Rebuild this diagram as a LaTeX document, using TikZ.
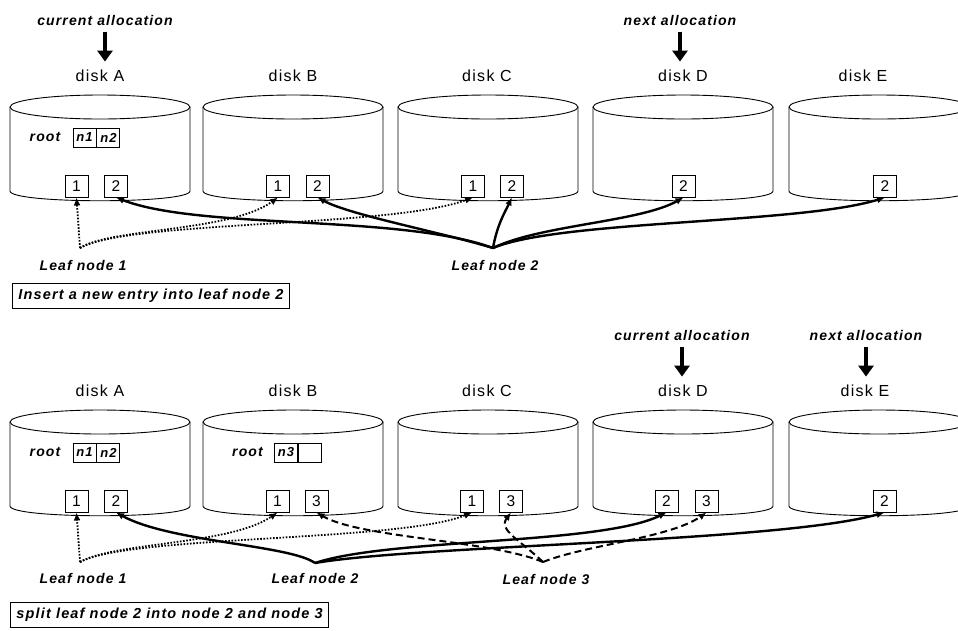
\documentclass[tikz,border=0pt]{standalone}
\usepackage{fontspec}
\setmainfont{Liberation Sans}[LetterSpace=8]
\usetikzlibrary{arrows.meta,positioning}
\tikzset{
  disk/.style={line width=0.9pt,draw=black},
  slot/.style={draw,line width=0.9pt,minimum width=23pt,minimum height=22pt,inner sep=0pt,font=\fontsize{15.5}{15.5}\selectfont},
  cell/.style={draw,line width=0.9pt,minimum width=23pt,minimum height=19pt,inner sep=0pt,font=\fontsize{13}{13}\selectfont\bfseries\itshape},
  lab/.style={font=\fontsize{14}{14}\selectfont\bfseries\itshape},
  disklab/.style={font=\fontsize{16}{16}\selectfont},
  caption/.style={draw,line width=0.9pt,inner xsep=6pt,minimum height=25pt,font=\fontsize{14.5}{14.5}\selectfont\bfseries\itshape},
  alloc/.style={-{Triangle[length=11pt,width=15pt]},line width=3.5pt,shorten <=3pt,shorten >=5pt},
  link/.style={-{Latex[length=8pt,width=7pt]},line width=2.4pt},
  dotlink/.style={-{Latex[length=8pt,width=7pt]},line width=1.8pt,dash pattern=on 1.6pt off 1.6pt},
  dashlink/.style={-{Latex[length=8pt,width=7pt]},line width=2pt,dash pattern=on 7pt off 4pt}
}

\begin{document}
\begin{tikzpicture}[x=1pt,y=-1pt]
    \useasboundingbox (0,0) rectangle (958,630);
    \clip (0,0) rectangle (958,630);

    % the five disks, once per row
    \foreach \cx in {100,293,488,683,879}{
      \foreach \dy in {0,315}{
        \draw[disk] (\cx-90,107+\dy) -- (\cx-90,191+\dy)
          .. controls (\cx-90,204+\dy) and (\cx+90,204+\dy) .. (\cx+90,191+\dy) -- (\cx+90,107+\dy);
        \draw[disk] (\cx,107+\dy) ellipse [x radius=90pt,y radius=12pt];
      }
    }

    % ---- insert ----
    \node[disklab] (tlA) at (100,76) {disk A};
    \node[disklab] (tlB) at (293,76) {disk B};
    \node[disklab] (tlC) at (487,76) {disk C};
    \node[disklab] (tlD) at (683,76) {disk D};
    \node[disklab] (tlE) at (863,76) {disk E};
    \node[lab] (tcur) at (105,20) {current allocation};
    \node[lab] (tnext) at (680,20) {next allocation};
    \draw[alloc] (tcur.south) -- (tcur.south |- tlA.north);
    \draw[alloc] (tnext.south) -- (tnext.south |- tlD.north);

    \node[lab] (troot) at (45,137) {root};
    \node[cell] (tn1) at (84.5,137.5) {n1};
    \node[cell,right=0pt of tn1] (tn2) {n2};

    \node[slot] (tA1) at (76.5,186) {1};
    \node[slot] (tA2) at (116,186) {2};
    \node[slot] (tB1) at (278,186) {1};
    \node[slot] (tB2) at (317.5,186) {2};
    \node[slot] (tC1) at (473,186) {1};
    \node[slot] (tC2) at (512,186) {2};
    \node[slot] (tD2) at (683.5,186) {2};
    \node[slot] (tE2) at (885,186) {2};

    \coordinate (tleaf1) at (80,248);
    \coordinate (tleaf2) at (493,248);
    \node[lab] (tleaf1lab) at (83,265) {Leaf node 1};
    \node[lab] (tleaf2lab) at (495,265) {Leaf node 2};

    \draw[dotlink] (tleaf1) -- (tA1.south);
    \draw[dotlink] (tleaf1) .. controls (110,228) and (230,232) .. (tB1.south);
    \draw[dotlink] (tleaf1) .. controls (130,220) and (390,228) .. (tC1.south);
    \draw[link] (tleaf2) .. controls (400,214) and (200,230) .. (tA2.south);
    \draw[link] (tleaf2) .. controls (440,232) and (350,215) .. (tB2.south);
    \draw[link] (tleaf2) .. controls (497,225) and (505,212) .. (tC2.south);
    \draw[link] (tleaf2) .. controls (540,225) and (640,222) .. (tD2.south);
    \draw[link] (tleaf2) .. controls (560,220) and (800,224) .. (tE2.south);

    \node[caption,anchor=west] (tcap) at (12,296) {Insert a new entry into leaf node 2};

    % ---- split ----
    \node[disklab] (slA) at (100,391) {disk A};
    \node[disklab] (slB) at (293,391) {disk B};
    \node[disklab] (slC) at (487,391) {disk C};
    \node[disklab] (slD) at (683,391) {disk D};
    \node[disklab] (slE) at (865,391) {disk E};
    \node[lab] (scur) at (682,335) {current allocation};
    \node[lab] (snext) at (866,335) {next allocation};
    \draw[alloc] (scur.south) -- (scur.south |- slD.north);
    \draw[alloc] (snext.south) -- (snext.south |- slE.north);

    \node[lab] (sroot) at (45,452) {root};
    \node[cell] (sn1) at (84.5,452.5) {n1};
    \node[cell,right=0pt of sn1] (sn2) {n2};
    \node[lab] (sroot3) at (247.5,452) {root};
    \node[cell] (sn3) at (286,452.5) {n3};
    \node[cell,right=0pt of sn3] (sfree) {};

    \node[slot] (sA1) at (76.5,501) {1};
    \node[slot] (sA2) at (116,501) {2};
    \node[slot] (sB1) at (277.5,501) {1};
    \node[slot] (sB3) at (316.5,501) {3};
    \node[slot] (sC1) at (472,501) {1};
    \node[slot] (sC3) at (511,501) {3};
    \node[slot] (sD2) at (666.5,501) {2};
    \node[slot] (sD3) at (706.5,501) {3};
    \node[slot] (sE2) at (884.5,501) {2};

    \coordinate (sleaf1) at (80,562);
    \coordinate (sleaf2) at (315,563);
    \coordinate (sleaf3) at (543,562);
    \node[lab] (sleaf1lab) at (83,578) {Leaf node 1};
    \node[lab] (sleaf2lab) at (315,578) {Leaf node 2};
    \node[lab] (sleaf3lab) at (546,579) {Leaf node 3};

    \draw[dotlink] (sleaf1) -- (sA1.south);
    \draw[dotlink] (sleaf1) .. controls (115,542) and (230,545) .. (sB1.south);
    \draw[dotlink] (sleaf1) .. controls (130,535) and (400,542) .. (sC1.south);
    \draw[link] (sleaf2) .. controls (290,545) and (170,542) .. (sA2.south);
    \draw[link] (sleaf2) .. controls (390,538) and (600,545) .. (sD2.south);
    \draw[link] (sleaf2) .. controls (420,545) and (780,542) .. (sE2.south);
    \draw[dashlink] (sleaf3) .. controls (490,540) and (360,538) .. (sB3.south);
    \draw[dashlink] (sleaf3) .. controls (520,540) and (498,530) .. (sC3.south);
    \draw[dashlink] (sleaf3) .. controls (585,545) and (670,538) .. (sD3.south);

    \node[caption,anchor=west] (scap) at (10,615) {split leaf node 2 into node 2 and node 3};
\end{tikzpicture}
\end{document}
